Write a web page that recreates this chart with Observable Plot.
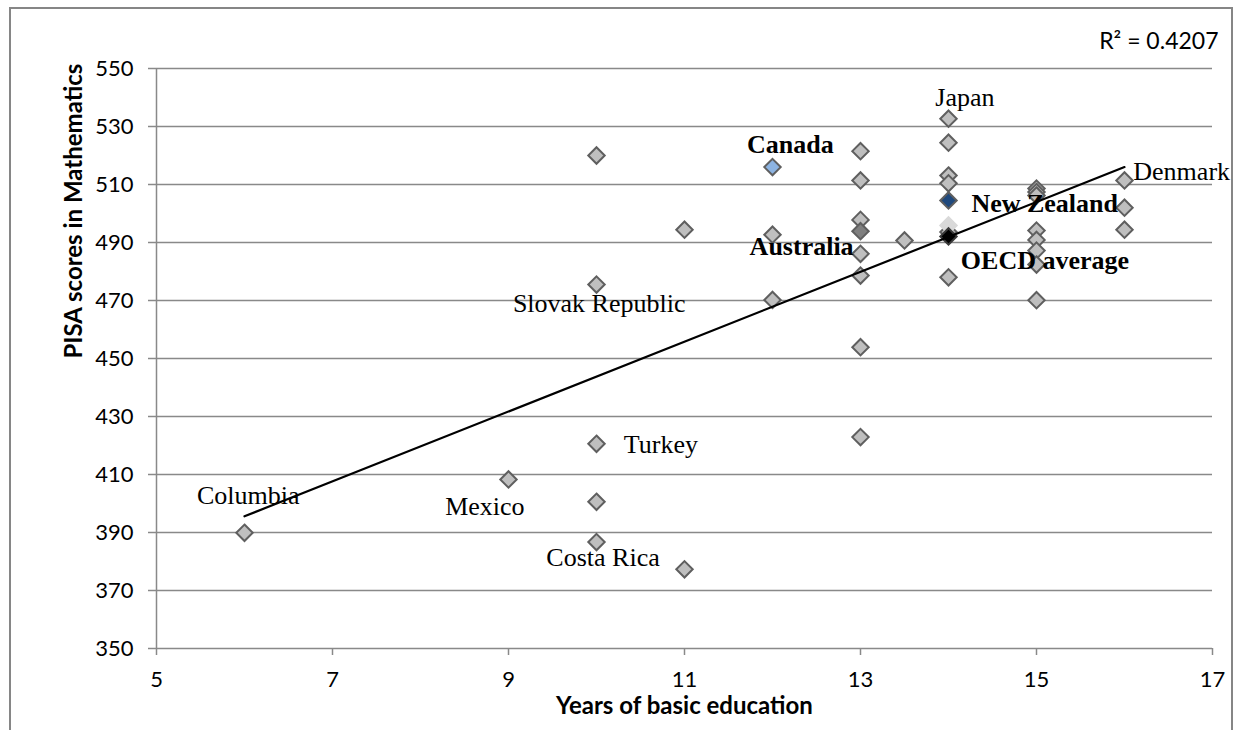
<!DOCTYPE html>
<html>
<head>
<meta charset="utf-8">
<script src="https://cdn.jsdelivr.net/npm/d3@7"></script>
<script src="https://cdn.jsdelivr.net/npm/@observablehq/plot@0.6"></script>
<style>
  html, body { margin: 0; padding: 0; background: #fff; }
  #chart { position: relative; width: 1247px; height: 730px; overflow: hidden; }
  #chart .border { position: absolute; left: 9px; top: 7px; width: 1224px; height: 760px;
                   border: 2px solid #868686; box-sizing: border-box; pointer-events: none; }
  #chart svg { position: absolute; left: 0; top: 0; }
</style>
</head>
<body>
<div id="chart"><div class="border"></div></div>
<script>
// Countries without a highlight: years of basic education vs PISA mathematics score
const otherYears  = [6, 9, 10, 10, 10, 10, 10, 11, 11, 12, 12,
                     13, 13, 13, 13, 13, 13, 13, 13.5,
                     14, 14, 14, 14, 14, 14,
                     15, 15, 15, 15, 15, 15, 15, 15,
                     16, 16, 16];
const otherScores = [389.9, 408.3, 520.0, 475.5, 420.6, 400.6, 386.7, 494.4, 377.3, 492.7, 470.2,
                     521.5, 511.4, 497.8, 486.1, 478.6, 453.9, 422.9, 490.7,
                     532.7, 524.4, 513.1, 510.4, 493.6, 478.0,
                     508.6, 507.4, 506.2, 494.1, 490.9, 487.2, 482.4, 470.1,
                     511.4, 502.0, 494.4];

// Highlighted points, drawn on top in this order
const highlightNames  = ["Canada", "Australia", "Pale", "New Zealand", "OECD average"];
const highlightYears  = [12, 13, 14, 14, 14];
const highlightScores = [516.0, 493.9, 495.9, 504.5, 492.1];
const highlightFill = {
  "Canada": "#8db4e2", "Australia": "#7f7f7f", "Pale": "#d9d9d9",
  "New Zealand": "#1f497d", "OECD average": "#000000"
};
const highlightStroke = {
  "Canada": "#5f5f5f", "Australia": "#5f5f5f", "Pale": "#d9d9d9",
  "New Zealand": "#5f5f5f", "OECD average": "#3a3a3a"
};

// Linear trend line end points and its fit
const trendYears  = [6, 16];
const trendScores = [395.6, 516.0];
const rSquared = "R\u00b2 = 0.4207";

// Country annotations (anchored at the left end of the text baseline)
const labelText  = ["Japan", "Canada", "Australia", "New Zealand", "OECD average", "Denmark",
                    "Slovak Republic", "Turkey", "Mexico", "Costa Rica", "Columbia"];
const labelYears = [13.85, 11.71, 11.74, 14.26, 14.14, 16.10, 9.05, 10.31, 8.28, 9.43, 5.46];
const labelScores = [537.2, 520.8, 485.8, 500.4, 480.9, 511.6, 466.0, 417.5, 396.1, 378.6, 399.7];
const labelBold = [false, true, true, true, true, false, false, false, false, false, false];

// Axes
const xTicks = [5, 7, 9, 11, 13, 15, 17];
const yTicks = [350, 370, 390, 410, 430, 450, 470, 490, 510, 530, 550];
const xTitle = "Years of basic education";
const yTitle = "PISA scores in Mathematics";

const others = otherYears.map((x, i) => ({x, y: otherScores[i]}));
const highlights = highlightNames.map((name, i) => ({name, x: highlightYears[i], y: highlightScores[i]}));
const trend = trendYears.map((x, i) => ({x, y: trendScores[i]}));
const labels = labelText.map((text, i) => ({text, x: labelYears[i], y: labelScores[i], bold: labelBold[i]}));

const gridColor = "#898989";
const serif = "'Liberation Serif', 'Times New Roman', serif";

const chart = Plot.plot({
  width: 1247,
  height: 730,
  marginLeft: 156,
  marginRight: 35,
  marginTop: 68,
  marginBottom: 82,
  x: {domain: [5, 17]},
  y: {domain: [350, 550]},
  style: {fontFamily: "Lato, sans-serif", background: "transparent", overflow: "visible"},
  marks: [
    // horizontal gridlines
    Plot.ruleY(yTicks.filter(v => v > 350), {stroke: gridColor, strokeWidth: 1.5}),
    // axis lines
    Plot.ruleX([5], {stroke: gridColor, strokeWidth: 1.5}),
    Plot.ruleY([350], {stroke: gridColor, strokeWidth: 1.5}),
    Plot.axisY({ticks: yTicks, tickSize: 8, tickPadding: 15, stroke: gridColor, strokeWidth: 1.5,
                fill: "#000", fontSize: 22, label: null}),
    Plot.axisX({ticks: xTicks, tickSize: 7, tickPadding: 16, stroke: gridColor, strokeWidth: 1.5,
                fill: "#000", fontSize: 22, label: null}),
    // country points
    Plot.dot(others, {x: "x", y: "y", symbol: "diamond2", r: 7.4,
                      fill: "#bfbfbf", stroke: "#5f5f5f", strokeWidth: 2}),
    Plot.dot(highlights, {x: "x", y: "y", symbol: "diamond2", r: 7.4,
                          fill: d => highlightFill[d.name], stroke: d => highlightStroke[d.name],
                          strokeWidth: 2}),
    // linear trend
    Plot.line(trend, {x: "x", y: "y", stroke: "#000", strokeWidth: 2.2}),
    // annotations
    Plot.text(labels.filter(d => !d.bold), {x: "x", y: "y", text: "text", textAnchor: "start",
              lineAnchor: "bottom", fontSize: 26, fontFamily: serif, fill: "#000"}),
    Plot.text(labels.filter(d => d.bold), {x: "x", y: "y", text: "text", textAnchor: "start",
              lineAnchor: "bottom", fontSize: 26, fontWeight: "bold", fontFamily: serif, fill: "#000"}),
    Plot.text([rSquared], {frameAnchor: "top-right", dx: 6, dy: -20, textAnchor: "end",
              lineAnchor: "bottom", fontSize: 23, fill: "#000"}),
    // axis titles
    Plot.text([xTitle], {frameAnchor: "bottom", dy: 58, lineAnchor: "middle",
              fontSize: 24, fontWeight: "bold", fill: "#000"}),
    Plot.text([yTitle], {frameAnchor: "left", dx: -82, rotate: -90, lineAnchor: "middle",
              fontSize: 24, fontWeight: "bold", fill: "#000"})
  ]
});

document.getElementById("chart").appendChild(chart);
</script>
</body>
</html>
